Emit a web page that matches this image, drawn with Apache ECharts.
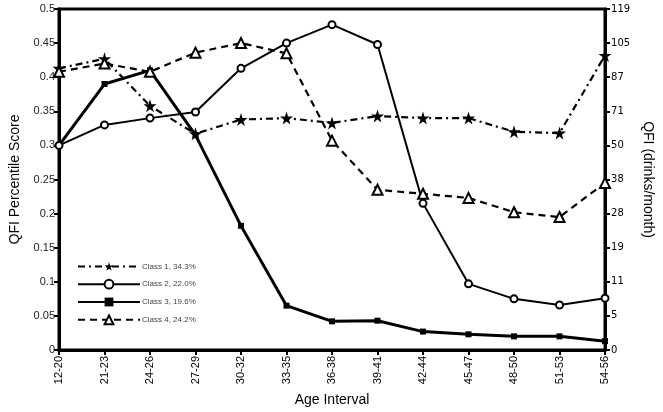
<!DOCTYPE html>
<html><head><meta charset="utf-8">
<script src="https://cdn.jsdelivr.net/npm/echarts@6/dist/echarts.min.js"></script>
<style>html,body{margin:0;padding:0;background:#fff}#c{width:663px;height:412px}</style>
</head><body><div id="c"></div>
<script>
const categories = ['12-20','21-23','24-26','27-29','30-32','33-35','36-38','39-41','42-44','45-47','48-50','51-53','54-56'];
const class1 = [0.413,0.427,0.358,0.317,0.338,0.340,0.333,0.343,0.340,0.340,0.320,0.318,0.432];
const class2 = [0.300,0.330,0.340,0.349,0.413,0.450,0.477,0.448,0.215,0.097,0.075,0.066,0.076];
const class3 = [0.300,0.390,0.410,0.315,0.182,0.065,0.042,0.043,0.027,0.023,0.020,0.020,0.013];
const class4 = [0.408,0.420,0.408,0.436,0.450,0.435,0.307,0.235,0.229,0.223,0.202,0.195,0.245];
const rightLabels = ['0','5','11','19','28','38','50','71','87','105','119'];
const names = ['Class 1, 34.3%','Class 2, 22.0%','Class 3, 19.6%','Class 4, 24.2%'];

const chart = echarts.init(document.getElementById('c'));
const font = 'Liberation Sans, Arial, sans-serif';
chart.setOption({
  animation: false,
  grid: {left: 55, right: 54, top: 9, bottom: 58, show: true, borderColor: '#000', borderWidth: 3},
  legend: {
    orient: 'vertical', left: 72, top: 257, itemWidth: 62, itemHeight: 11, itemGap: 8,
    textStyle: {fontSize: 8, color: '#444', fontFamily: font, padding: [0,0,0,-3]},
    data: names
  },
  xAxis: {
    type: 'category', data: categories, boundaryGap: false,
    axisLine: {lineStyle: {color: '#000', width: 3}},
    axisTick: {show: true, length: 5, lineStyle: {color: '#000', width: 2}, alignWithLabel: true},
    axisLabel: {rotate: 90, fontSize: 11, color: '#000', fontFamily: font, margin: 6, interval: 0},
    name: 'Age Interval', nameLocation: 'middle', nameGap: 43,
    nameTextStyle: {fontSize: 14, color: '#000', fontFamily: font}
  },
  yAxis: [{
    type: 'value', min: 0, max: 0.5, interval: 0.05,
    axisLine: {show: true, lineStyle: {color: '#000', width: 3}},
    axisTick: {show: true, length: 5, lineStyle: {color: '#000', width: 2}},
    splitLine: {show: false},
    axisLabel: {fontSize: 11, color: '#222', fontFamily: font, margin: 4},
    name: 'QFI Percentile Score', nameLocation: 'middle', nameGap: 37,
    nameTextStyle: {fontSize: 14, color: '#000', fontFamily: font}
  }, {
    type: 'value', min: 0, max: 0.5, interval: 0.05, position: 'right',
    axisLine: {show: true, lineStyle: {color: '#000', width: 3}},
    axisTick: {show: true, length: 5, lineStyle: {color: '#000', width: 2}},
    splitLine: {show: false},
    axisLabel: {fontSize: 10, color: '#000', fontFamily: 'DejaVu Sans, sans-serif', margin: 6,
      formatter: v => rightLabels[Math.round(v / 0.05)]},
    name: 'QFI (drinks/month)', nameLocation: 'middle', nameGap: 34, nameRotate: -90,
    nameTextStyle: {fontSize: 14, color: '#000', fontFamily: font}
  }],
  series: [
    {name: names[0], type: 'line', data: class1, symbol: 'path://M50,0 L61,35 L98,35 L68,57 L79,91 L50,70 L21,91 L32,57 L2,35 L39,35 Z',
     symbolSize: 13, itemStyle: {color: '#000'}, lineStyle: {color: '#000', width: 2.2, type: [7,4,2,4]}, z: 4},
    {name: names[1], type: 'line', data: class2, symbol: 'emptyCircle', symbolSize: 7,
     itemStyle: {color: '#000', borderWidth: 2}, lineStyle: {color: '#000', width: 2}, z: 3},
    {name: names[2], type: 'line', data: class3, symbol: 'rect', symbolSize: 6,
     itemStyle: {color: '#000'}, lineStyle: {color: '#000', width: 3}, z: 2},
    {name: names[3], type: 'line', data: class4, symbol: 'emptyTriangle', symbolSize: 10,
     itemStyle: {color: '#000', borderWidth: 1.8}, lineStyle: {color: '#000', width: 2.2, type: [7,5]}, z: 5}
  ]
});
</script></body></html>
